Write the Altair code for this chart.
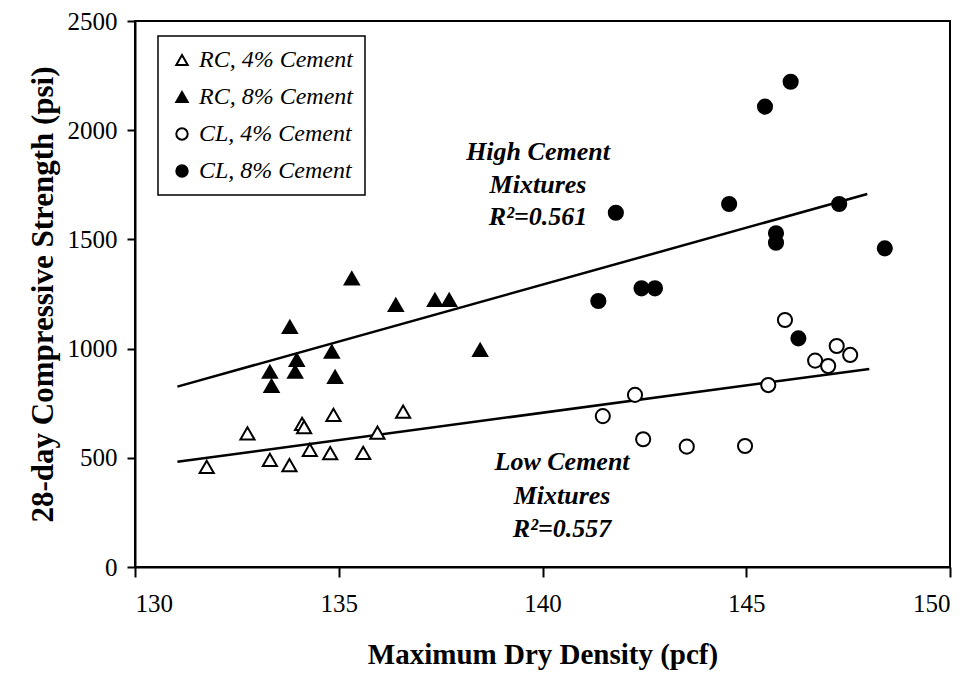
import altair as alt
import pandas as pd

series = ["RC, 4% Cement", "RC, 8% Cement", "CL, 4% Cement", "CL, 8% Cement"]

rc4_x = [131.76, 132.76, 133.31, 133.79, 134.10, 134.15, 134.29, 134.79, 134.87, 135.60, 135.95, 136.58]
rc4_y = [459, 612, 490, 467, 655, 640, 536, 521, 696, 523, 615, 711]

rc8_x = [133.31, 133.35, 133.80, 133.93, 133.97, 134.83, 134.91, 135.32, 136.40, 137.36, 137.71, 138.47]
rc8_y = [894, 829, 1100, 894, 948, 986, 871, 1322, 1200, 1223, 1223, 994]

cl4_x = [141.48, 142.27, 142.47, 143.54, 144.97, 145.54, 145.95, 146.69, 147.01, 147.22, 147.55]
cl4_y = [691, 788, 585, 551, 554, 833, 1131, 945, 920, 1012, 971]

cl8_x = [141.37, 141.80, 142.43, 142.76, 144.58, 145.46, 145.73, 145.73, 146.09, 146.28, 147.28, 148.40]
cl8_y = [1218, 1622, 1276, 1276, 1662, 2108, 1528, 1485, 2222, 1047, 1662, 1459]

fit_names = ["High", "High", "Low", "Low"]
fit_x = [131.04, 147.97, 131.04, 148.02]
fit_y = [826, 1708, 482, 907]

note_text = ["High Cement", "Mixtures", "R\u00b2=0.561", "Low Cement", "Mixtures", "R\u00b2=0.557"]
note_x = [139.89, 139.89, 139.89, 140.48, 140.48, 140.48]
note_y = [1900, 1748, 1603, 481, 326, 174]

x_ticks = [130, 135, 140, 145, 150]
y_ticks = [0, 500, 1000, 1500, 2000, 2500]

rows = []
for name, xs, ys in zip(series, [rc4_x, rc8_x, cl4_x, cl8_x], [rc4_y, rc8_y, cl4_y, cl8_y]):
    for a, b in zip(xs, ys):
        rows.append({"series": name, "density": a, "strength": b})
pts = pd.DataFrame(rows)
fits = pd.DataFrame({"fit": fit_names, "density": fit_x, "strength": fit_y})
notes = pd.DataFrame({"text": note_text, "density": note_x, "strength": note_y})

SERIF = "Liberation Serif"

xenc = alt.X("density:Q", scale=alt.Scale(domain=[130, 150], nice=False, zero=False),
             axis=alt.Axis(values=x_ticks, format="d", title="Maximum Dry Density (pcf)", tickSize=10,
                           labelPadding=14, titlePadding=24, titleFontSize=29))
yenc = alt.Y("strength:Q", scale=alt.Scale(domain=[0, 2500], nice=False),
             axis=alt.Axis(values=y_ticks, format="d", title="28-day Compressive Strength (psi)", tickSize=8,
                           labelPadding=10, titlePadding=8, titleFontSize=31))

leg = alt.Legend(title=None, orient="none", legendX=23, legendY=15)

points = alt.Chart(pts).mark_point(filled=True, strokeWidth=2, opacity=1, size=200).encode(
    x=xenc,
    y=yenc,
    shape=alt.Shape("series:N", scale=alt.Scale(domain=series, range=["triangle-up", "triangle-up", "circle", "circle"]), legend=leg),
    fill=alt.Fill("series:N", scale=alt.Scale(domain=series, range=["white", "black", "white", "black"]), legend=leg),
    stroke=alt.Stroke("series:N", scale=alt.Scale(domain=series, range=["black", "black", "black", "black"]), legend=leg),
)

lines = alt.Chart(fits).mark_line(color="black", strokeWidth=2.5).encode(
    x="density:Q", y="strength:Q", detail="fit:N"
)

texts = alt.Chart(notes).mark_text(font=SERIF, fontSize=26, fontStyle="italic", fontWeight="bold",
                                   color="black", align="center", baseline="middle").encode(
    x="density:Q", y="strength:Q", text="text:N"
)

chart = alt.layer(lines, points, texts).properties(
    width=815, height=546,
    autosize=alt.AutoSizeParams(type="none"),
    padding={"left": 135, "top": 21, "right": 29, "bottom": 107},
    background="white",
).configure_view(
    stroke="black", strokeWidth=2
).configure_axis(
    grid=False, domainColor="black", domainWidth=2, tickColor="black", tickWidth=2,
    labelFont=SERIF, labelFontSize=25, labelColor="black",
    titleFont=SERIF, titleFontWeight="bold", titleColor="black",
).configure_legend(
    strokeColor="black", strokeWidth=1.5, fillColor="white", padding=12,
    labelFont=SERIF, labelFontStyle="italic", labelFontSize=24, labelColor="black",
    symbolSize=130, symbolStrokeColor="black", symbolStrokeWidth=2, rowPadding=13, labelOffset=5,
)

chart.save("out.html", embed_options={"renderer": "svg", "actions": False})
